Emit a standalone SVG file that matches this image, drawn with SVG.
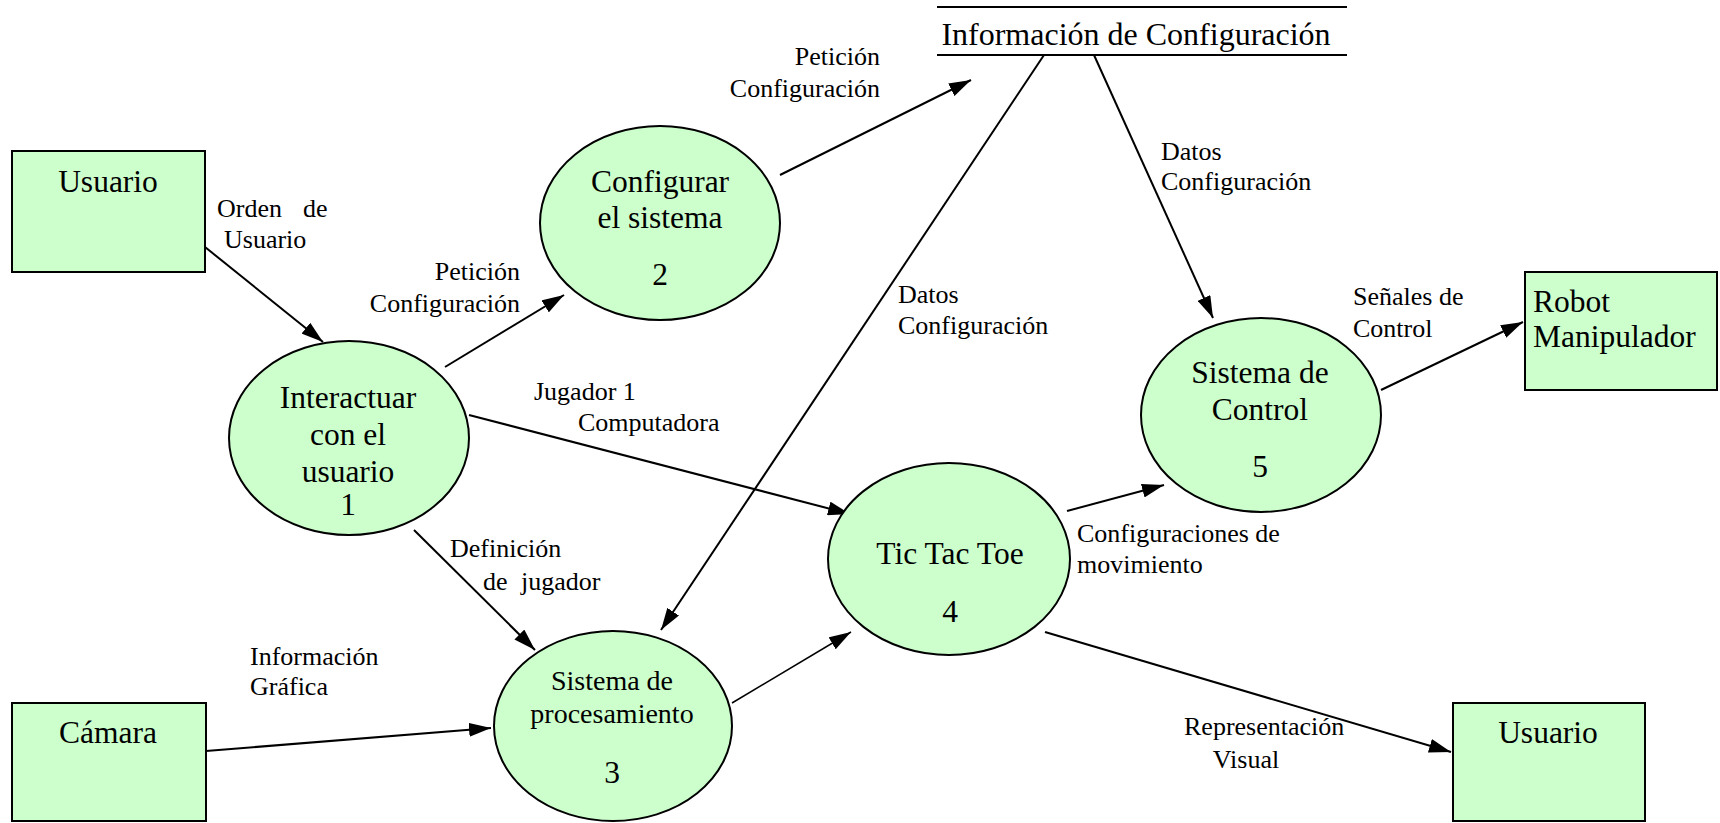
<svg xmlns="http://www.w3.org/2000/svg" width="1720" height="823" viewBox="0 0 1720 823" font-family="'Liberation Serif', Tinos, 'Times New Roman', 'DejaVu Serif', serif">
  <style>
    .entity { fill: #ccffcc; stroke: #000; stroke-width: 2; }
    .process { fill: #ccffcc; stroke: #000; stroke-width: 2; }
    .store { stroke: #000; stroke-width: 2; }
    .flow { fill: none; stroke: #000; stroke-width: 2; marker-end: url(#arrow); }
    text { fill: #000; }
    .big { font-size: 31.5px; }
    .mid { font-size: 28px; }
    .lbl { font-size: 26px; }
    .c { text-anchor: middle; }
    .r { text-anchor: end; }
  </style>
  <defs>
    <marker id="arrow" markerUnits="userSpaceOnUse" markerWidth="22" markerHeight="14" refX="22" refY="7" orient="auto">
      <path d="M0,0 L22,7 L0,14 z" fill="#000"/>
    </marker>
  </defs>
  <rect width="1720" height="823" fill="#fff"/>

  <!-- data flows -->
  <g id="connectors">
    <path class="flow" d="M205,247 L323,342"/>
    <path class="flow" d="M445,367 L564,295"/>
    <path class="flow" d="M780,175 L971,80"/>
    <path class="flow" d="M1044,55 L661,630"/>
    <path class="flow" d="M1094,55 L1213,318"/>
    <path class="flow" d="M469,415 L850,514"/>
    <path class="flow" d="M414,530 L535,650"/>
    <path class="flow" d="M206,751 L491,728"/>
    <path class="flow" d="M732,703 L851,632" style="stroke-width:1.5"/>
    <path class="flow" d="M1067,511 L1164,485"/>
    <path class="flow" d="M1381,390 L1523,322"/>
    <path class="flow" d="M1045,632 L1451,752"/>

    <g id="flow-labels">
      <text class="lbl" x="217" y="217">Orden</text>
      <text class="lbl" x="303" y="217">de</text>
      <text class="lbl" x="224" y="248">Usuario</text>

      <text class="lbl r" x="520" y="280">Petición</text>
      <text class="lbl r" x="520" y="312">Configuración</text>

      <text class="lbl r" x="880" y="65">Petición</text>
      <text class="lbl r" x="880" y="97">Configuración</text>

      <text class="lbl" x="1161" y="160">Datos</text>
      <text class="lbl" x="1161" y="190">Configuración</text>

      <text class="lbl" x="898" y="303">Datos</text>
      <text class="lbl" x="898" y="334">Configuración</text>

      <text class="lbl" x="534" y="400">Jugador 1</text>
      <text class="lbl" x="578" y="431">Computadora</text>

      <text class="lbl" x="450" y="557">Definición</text>
      <text class="lbl" x="483" y="590">de</text>
      <text class="lbl" x="521" y="590">jugador</text>

      <text class="lbl" x="250" y="665">Información</text>
      <text class="lbl" x="250" y="695">Gráfica</text>

      <text class="lbl" x="1077" y="542">Configuraciones de</text>
      <text class="lbl" x="1077" y="573">movimiento</text>

      <text class="lbl" x="1353" y="305">Señales de</text>
      <text class="lbl" x="1353" y="337">Control</text>

      <text class="lbl" x="1184" y="735">Representación</text>
      <text class="lbl c" x="1246" y="768">Visual</text>
    </g>
  </g>

  <!-- external entities -->
  <g id="usuario-in">
    <rect class="entity" x="12" y="151" width="193" height="121"/>
    <text class="big c" x="108" y="192">Usuario</text>
  </g>
  <g id="camara">
    <rect class="entity" x="12" y="703" width="194" height="118"/>
    <text class="big c" x="108" y="743">Cámara</text>
  </g>
  <g id="robot">
    <rect class="entity" x="1525" y="272" width="192" height="118"/>
    <text class="big" x="1533" y="312">Robot</text>
    <text class="big" x="1533" y="347">Manipulador</text>
  </g>
  <g id="usuario-out">
    <rect class="entity" x="1453" y="703" width="192" height="118"/>
    <text class="big c" x="1548" y="743">Usuario</text>
  </g>

  <!-- data store -->
  <g id="info-config">
    <line class="store" x1="937" y1="7" x2="1347" y2="7"/>
    <line class="store" x1="937" y1="55" x2="1347" y2="55"/>
    <text x="1136" y="45" class="c" style="font-size:32px">Información de Configuración</text>
  </g>

  <!-- processes -->
  <g id="p1">
    <ellipse class="process" cx="349" cy="438" rx="120" ry="97"/>
    <text class="big c" x="348" y="408">Interactuar</text>
    <text class="big c" x="348" y="445">con el</text>
    <text class="big c" x="348" y="482">usuario</text>
    <text class="big c" x="348" y="515">1</text>
  </g>
  <g id="p2">
    <ellipse class="process" cx="660" cy="223" rx="120" ry="97"/>
    <text class="big c" x="660" y="192">Configurar</text>
    <text class="big c" x="660" y="228">el sistema</text>
    <text class="big c" x="660" y="285">2</text>
  </g>
  <g id="p3">
    <ellipse class="process" cx="613" cy="726" rx="119" ry="95"/>
    <text class="mid c" x="612" y="690">Sistema de</text>
    <text class="mid c" x="612" y="723">procesamiento</text>
    <text class="big c" x="612" y="783">3</text>
  </g>
  <g id="p4">
    <ellipse class="process" cx="949" cy="559" rx="121" ry="96"/>
    <text class="big c" x="950" y="564">Tic Tac Toe</text>
    <text class="big c" x="950" y="622">4</text>
  </g>
  <g id="p5">
    <ellipse class="process" cx="1261" cy="415" rx="120" ry="97"/>
    <text class="big c" x="1260" y="383">Sistema de</text>
    <text class="big c" x="1260" y="420">Control</text>
    <text class="big c" x="1260" y="477">5</text>
  </g>
</svg>
